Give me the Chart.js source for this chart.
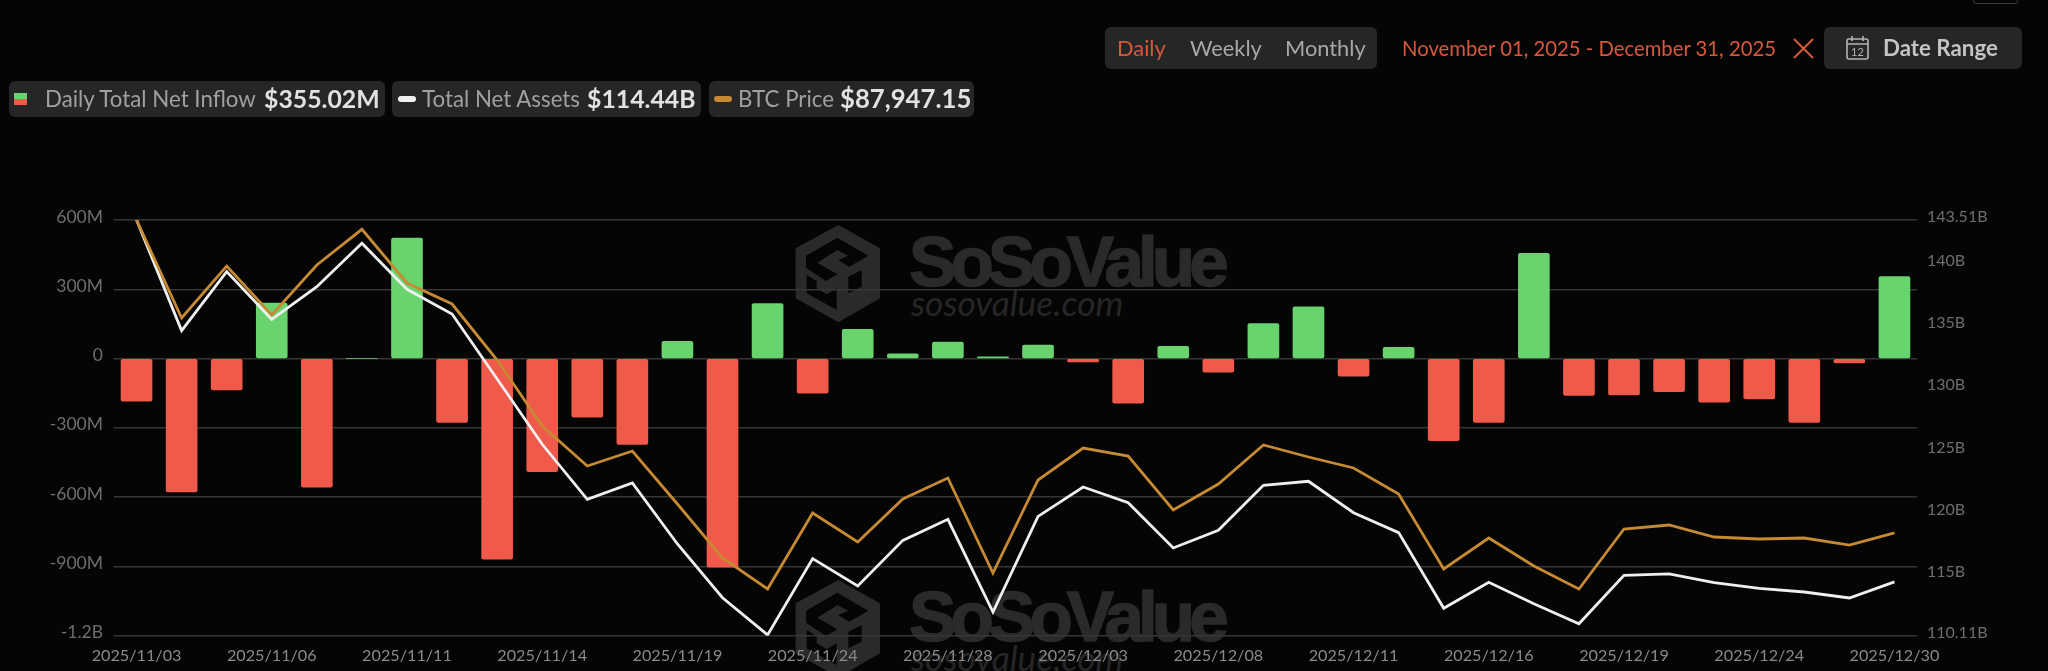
<!DOCTYPE html>
<html>
<head>
<meta charset="utf-8">
<title>Daily Total Net Inflow</title>
<script src="https://cdn.jsdelivr.net/npm/chart.js@4/dist/chart.umd.min.js"></script>
<style>
  html, body { margin: 0; padding: 0; background: #050505; width: 2048px; height: 671px; overflow: hidden; }
  body { position: relative; font-family: Lato, sans-serif; }
  canvas { position: absolute; left: 0; top: 0; }
  .abs { position: absolute; white-space: nowrap; line-height: 1; }
  .box { position: absolute; background: #262626; border-radius: 6px; }
  .label { color: #a0a0a0; font-size: 22.3px; top: 88px; }
  .value { color: #e2e2e2; font-size: 24.8px; font-weight: 700; top: 87px; }
  .tab { color: #a8a8a8; font-size: 21.8px; top: 37px; }
  .orange { color: #d9583a; }
  .mark { color: #2a2a2a; font-family: "Liberation Sans", sans-serif; font-weight: 700; font-size: 71px; letter-spacing: -5.9px; -webkit-text-stroke: 1.5px #2a2a2a; }
  .markurl { color: #262626; font-family: Lato, sans-serif; font-style: italic; font-size: 35.3px; }
</style>
</head>
<body>
<!-- watermarks sit behind the chart -->
<svg width="0" height="0" style="position:absolute">
  <symbol id="logo" viewBox="0 0 360 345">
    <path fill="#2a2a2a" d="M175 30 L300 100 L300 250 L175 322 L47 250 L47 100 Z"/>
    <path fill="#050505" d="M78 122 L172 68 L265 122 L208 155 L175 136 L205 122 L172 105 L112 143 L172 178 L138 198 L78 158 Z"/>
    <path fill="#050505" d="M80 180 L110 198 L110 220 L140 238 L170 220 L170 285 L80 235 Z"/>
    <path fill="#050505" d="M205 185 L245 165 L245 215 L205 235 Z"/>
  </symbol>
</svg>
<svg class="abs" style="left:780px;top:215px" width="120" height="115"><use href="#logo"/></svg>
<div class="abs mark" style="left:909px;top:226px">SoSoValue</div>
<div class="abs markurl" style="left:911px;top:285px">sosovalue.com</div>
<svg class="abs" style="left:780px;top:570px" width="120" height="115"><use href="#logo"/></svg>
<div class="abs mark" style="left:909px;top:581px">SoSoValue</div>
<div class="abs markurl" style="left:911px;top:640px">sosovalue.com</div>

<canvas id="chart" width="2048" height="671"></canvas>

<!-- legend chips -->
<div class="box" style="left:9px;top:81px;width:376px;height:36px"></div>
<div class="box" style="left:392px;top:81px;width:309px;height:36px"></div>
<div class="box" style="left:709px;top:81px;width:265px;height:36px"></div>
<div class="abs" style="left:14px;top:93px;width:13px;height:6px;background:#69d36e"></div>
<div class="abs" style="left:14px;top:99px;width:13px;height:6px;background:#f05a4a"></div>
<div class="abs" style="left:398px;top:96px;width:18px;height:6px;border-radius:3px;background:#efefef"></div>
<div class="abs" style="left:714px;top:96px;width:18px;height:6px;border-radius:3px;background:#c68a33"></div>
<div class="abs label" style="left:45px">Daily Total Net Inflow</div>
<div class="abs value" style="left:264px">$355.02M</div>
<div class="abs label" style="left:422px">Total Net Assets</div>
<div class="abs value" style="left:587px">$114.44B</div>
<div class="abs label" style="left:738px">BTC Price</div>
<div class="abs value" style="left:840px;font-size:25.7px;top:86px">$87,947.15</div>

<!-- range controls -->
<div class="abs" style="left:1973px;top:-6px;width:43px;height:8px;border:1px solid #3a3a3a;border-radius:3px"></div>
<div class="box" style="left:1105px;top:27px;width:272px;height:42px"></div>
<div class="abs tab orange" style="left:1117px">Daily</div>
<div class="abs tab" style="left:1190px">Weekly</div>
<div class="abs tab" style="left:1285px">Monthly</div>
<div class="abs tab orange" style="left:1402px;font-size:20.3px;top:38px">November 01, 2025 - December 31, 2025</div>
<svg class="abs" style="left:1793px;top:38px" width="21" height="21" viewBox="0 0 21 21">
  <path d="M1 1 L20 20 M20 1 L1 20" stroke="#d9583a" stroke-width="2" fill="none"/>
</svg>
<div class="box" style="left:1824px;top:27px;width:198px;height:42px"></div>
<svg class="abs" style="left:1846px;top:35px" width="23" height="25" viewBox="0 0 23 25">
  <rect x="1" y="4" width="21" height="20" rx="2" fill="none" stroke="#b4b4b4" stroke-width="1.6"/>
  <path d="M1 9 H22 M6 1 V6 M17 1 V6" stroke="#b4b4b4" stroke-width="1.6" fill="none"/>
  <text x="11.5" y="21" text-anchor="middle" font-family="Lato" font-size="11" fill="#b4b4b4">12</text>
</svg>
<div class="abs" style="left:1883px;top:37px;color:#c4c4c4;font-size:22.3px;font-weight:700">Date Range</div>

<script>
const dates = [
  '2025/11/03', '2025/11/04', '2025/11/05', '2025/11/06', '2025/11/07',
  '2025/11/10', '2025/11/11', '2025/11/12', '2025/11/13', '2025/11/14',
  '2025/11/17', '2025/11/18', '2025/11/19', '2025/11/20', '2025/11/21',
  '2025/11/24', '2025/11/25', '2025/11/26', '2025/11/28', '2025/12/01',
  '2025/12/02', '2025/12/03', '2025/12/04', '2025/12/05', '2025/12/08',
  '2025/12/09', '2025/12/10', '2025/12/11', '2025/12/12', '2025/12/15',
  '2025/12/16', '2025/12/17', '2025/12/18', '2025/12/19', '2025/12/22',
  '2025/12/23', '2025/12/24', '2025/12/26', '2025/12/29', '2025/12/30'
];
// millions of dollars
const netInflow = [
  -185, -577, -136, 240, -557, 0, 522, -277, -869, -490,
  -254, -372, 75, -903, 238, -150, 127, 20, 71, 7,
  58, -14, -193, 53, -59, 151, 224, -76, 49, -356,
  -277, 456, -160, -157, -143, -189, -175, -276, -19, 355
];
// billions of dollars
const netAssets = [
  143.51, 134.62, 139.36, 135.53, 138.15, 141.64, 137.94, 135.96, 130.73, 125.49,
  121.07, 122.38, 117.48, 113.16, 110.17, 116.30, 114.10, 117.77, 119.46, 112.01,
  119.70, 122.06, 120.80, 117.16, 118.58, 122.19, 122.52, 119.99, 118.39, 112.31,
  114.40, 112.68, 111.07, 114.96, 115.07, 114.37, 113.92, 113.62, 113.14, 114.44
];
const btcPrice = [
  106500, 100689, 103772, 100866, 103831, 105949, 102764, 101519, 98198, 94284,
  91912, 92802, 89659, 86457, 84618, 89125, 87405, 89955, 91201, 85567,
  91082, 92980, 92505, 89303, 90845, 93157, 92446, 91794, 90252, 85804,
  87643, 85982, 84618, 88176, 88413, 87702, 87583, 87643, 87227, 87947
];
const inflowTicks = [600, 300, 0, -300, -600, -900, -1200];
const assetTicks = [143.51, 140, 135, 130, 125, 120, 115, 110.11];

function inflowLabel(v){
  if(v === 0) return '0';
  if(Math.abs(v) >= 1000) return `${v / 1000}B`;
  return `${v}M`;
}

const tickFont = { family: 'Lato', size: 16 };

new Chart(document.getElementById('chart').getContext('2d'), {
  data: {
    labels: dates,
    datasets: [
      {
        type: 'line',
        label: 'BTC Price',
        data: btcPrice,
        yAxisID: 'yBtc',
        borderColor: '#c68a33',
        borderWidth: 2.8,
        pointRadius: 0,
        tension: 0,
        order: 1
      },
      {
        type: 'line',
        label: 'Total Net Assets',
        data: netAssets,
        yAxisID: 'yAssets',
        borderColor: '#efefef',
        borderWidth: 2.8,
        pointRadius: 0,
        tension: 0,
        order: 2
      },
      {
        type: 'bar',
        label: 'Daily Total Net Inflow',
        data: netInflow,
        yAxisID: 'y',
        backgroundColor: netInflow.map(v => v >= 0 ? '#69d36e' : '#f05a4a'),
        barThickness: 31,
        borderRadius: 2,
        borderSkipped: false,
        order: 3
      }
    ]
  },
  options: {
    responsive: false,
    animation: false,
    layout: { padding: { top: 220 } },
    plugins: { legend: { display: false }, tooltip: { enabled: false } },
    scales: {
      x: {
        grid: { display: false },
        border: { display: false },
        afterFit: s => { s.height = 35.3; },
        ticks: {
          autoSkip: false,
          maxRotation: 0,
          padding: 2,
          color: '#8a8a8a',
          font: { family: 'Lato', size: 16.2 },
          callback(value, index){
            return index % 3 === 0 ? this.getLabelForValue(value) : '';
          }
        }
      },
      y: {
        min: -1200,
        max: 600,
        afterFit: s => { s.width = 114; },
        afterBuildTicks: s => { s.ticks = inflowTicks.map(value => ({ value })); },
        grid: { color: '#363636', lineWidth: 1.5, drawTicks: false },
        border: { display: false },
        ticks: {
          color: '#6e6e6e',
          font: { family: 'Lato', size: 17.5 },
          padding: 11,
          labelOffset: -3,
          callback: v => inflowLabel(v)
        }
      },
      yAssets: {
        position: 'right',
        min: 110.11,
        max: 143.51,
        afterFit: s => { s.width = 131; },
        afterBuildTicks: s => { s.ticks = assetTicks.map(value => ({ value })); },
        grid: { display: false },
        border: { display: false },
        ticks: {
          color: '#6e6e6e',
          font: tickFont,
          padding: 2,
          labelOffset: -3,
          callback: v => `${v}B`
        }
      },
      yBtc: {
        display: false,
        min: 81850,
        max: 106500
      }
    }
  }
});
</script>
</body>
</html>
